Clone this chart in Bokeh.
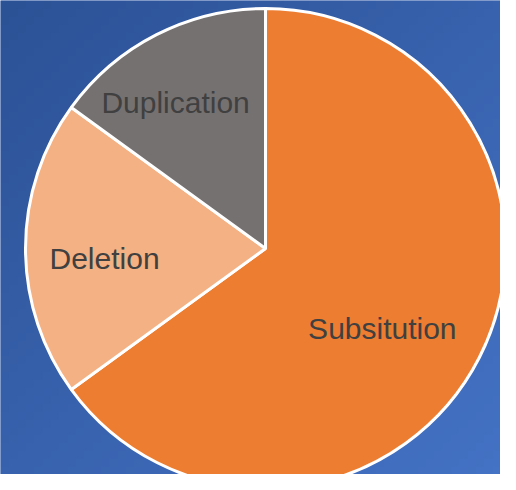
import numpy as np
from bokeh.plotting import figure
from bokeh.models import Range1d, ColumnDataSource
from bokeh.core.properties import value
from bokeh.embed import file_html
from bokeh.resources import INLINE

# ---- data ----
categories = ["Subsitution", "Deletion", "Duplication"]
shares = [65, 20, 15]
colors = ["#ED7D31", "#F4B183", "#767171"]

W, H = 500, 474
p = figure(width=W, height=H, output_backend="svg", toolbar_location=None,
           x_range=Range1d(0, W), y_range=Range1d(0, H), min_border=0)
p.axis.visible = False
p.grid.visible = False
p.outline_line_color = None
p.background_fill_color = "#3a62ad"
p.border_fill_color = "#3a62ad"

# background gradient (decoration): top-left dark, bottom-right light
ny, nx = 60, 60
yy, xx = np.mgrid[0:ny, 0:nx]
t = (xx / (nx - 1)) * 0.5 + (1 - yy / (ny - 1)) * 0.5
c0 = np.array([0x2C, 0x52, 0x96])
c1 = np.array([0x44, 0x72, 0xC4])
img = np.empty((ny, nx), dtype=np.uint32)
view = img.view(dtype=np.uint8).reshape((ny, nx, 4))
for k in range(3):
    view[:, :, k] = (c0[k] + (c1[k] - c0[k]) * t).astype(np.uint8)
view[:, :, 3] = 255
p.image_rgba(image=[img], x=0, y=0, dw=W, dh=H)

# pie geometry
cx, cy, r = 265, H - 248, 240
vals = np.array(shares, dtype=float)
frac = vals / vals.sum()
ends = 2 * np.pi * np.cumsum(frac)
starts = ends - 2 * np.pi * frac
start_angle = np.pi / 2 - starts
end_angle = np.pi / 2 - ends
src = ColumnDataSource(dict(cat=categories, start=start_angle, end=end_angle, color=colors))
p.wedge(x=cx, y=cy, radius=r, start_angle="start", end_angle="end", direction="clock",
        fill_color="color", line_color="white", line_width=3, source=src)

# labels
lab_ang = np.deg2rad([-34.4, 183.6, 121.6])
lab_r = np.array([0.59, 0.672, 0.715]) * r
lx = cx + lab_r * np.cos(lab_ang)
ly = cy + lab_r * np.sin(lab_ang)
p.text(x=lx, y=ly, text=categories, text_align="center", text_baseline="middle",
       text_font=value("Liberation Sans"), text_font_size="30px", text_color="#404040")

open("out.html", "w").write(file_html(p, INLINE))
